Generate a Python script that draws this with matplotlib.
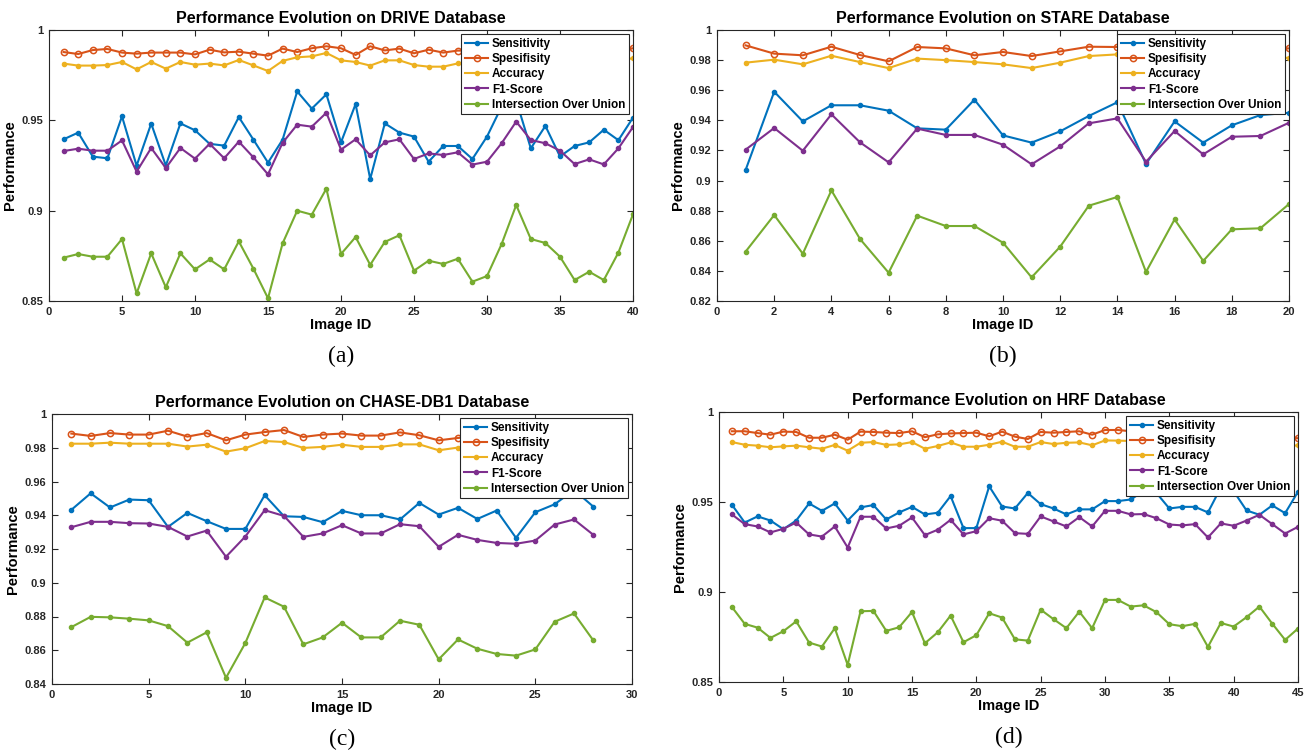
import matplotlib
matplotlib.use("Agg")
import matplotlib.pyplot as plt

plt.rcParams['font.family'] = ['Liberation Sans', 'DejaVu Sans']

# ---- data ----
drive_sens = [0.9395, 0.9432, 0.9299, 0.9290, 0.9522, 0.9249, 0.9482, 0.9250, 0.9483, 0.9445,
              0.9370, 0.9360, 0.9518, 0.9393, 0.9266, 0.9393, 0.9660, 0.9565, 0.9644, 0.9378,
              0.9590, 0.9175, 0.9483, 0.9432, 0.9410, 0.9271, 0.9358, 0.9358, 0.9286, 0.9410,
              0.9576, 0.9610, 0.9345, 0.9469, 0.9300, 0.9358, 0.9378, 0.9448, 0.9390, 0.9515]
drive_spec = [0.9878, 0.9867, 0.9889, 0.9895, 0.9875, 0.9869, 0.9875, 0.9875, 0.9875, 0.9865,
              0.9891, 0.9876, 0.9880, 0.9869, 0.9858, 0.9897, 0.9878, 0.9899, 0.9910, 0.9899,
              0.9862, 0.9910, 0.9887, 0.9897, 0.9871, 0.9891, 0.9875, 0.9886, 0.9885, 0.9890,
              0.9880, 0.9892, 0.9878, 0.9886, 0.9880, 0.9890, 0.9884, 0.9887, 0.9882, 0.9899]
drive_acc = [0.9814, 0.9803, 0.9803, 0.9806, 0.9823, 0.9782, 0.9823, 0.9786, 0.9823, 0.9808,
             0.9814, 0.9804, 0.9834, 0.9804, 0.9773, 0.9829, 0.9849, 0.9854, 0.9873, 0.9832,
             0.9823, 0.9803, 0.9832, 0.9832, 0.9806, 0.9797, 0.9797, 0.9815, 0.9812, 0.9818,
             0.9808, 0.9823, 0.9805, 0.9815, 0.9810, 0.9820, 0.9813, 0.9818, 0.9826, 0.9845]
drive_f1 = [0.9330, 0.9343, 0.9332, 0.9332, 0.9389, 0.9216, 0.9347, 0.9236, 0.9347, 0.9288,
            0.9370, 0.9290, 0.9382, 0.9295, 0.9201, 0.9376, 0.9476, 0.9465, 0.9542, 0.9338,
            0.9395, 0.9306, 0.9378, 0.9395, 0.9286, 0.9317, 0.9308, 0.9323, 0.9255, 0.9271,
            0.9373, 0.9493, 0.9391, 0.9373, 0.9332, 0.9258, 0.9284, 0.9256, 0.9345, 0.9463]
drive_iou = [0.8740, 0.8760, 0.8745, 0.8745, 0.8843, 0.8542, 0.8764, 0.8576, 0.8764, 0.8675,
             0.8730, 0.8675, 0.8830, 0.8679, 0.8515, 0.8819, 0.9000, 0.8978, 0.9122, 0.8760,
             0.8854, 0.8700, 0.8827, 0.8864, 0.8668, 0.8723, 0.8705, 0.8734, 0.8607, 0.8638,
             0.8815, 0.9031, 0.8843, 0.8821, 0.8745, 0.8616, 0.8662, 0.8616, 0.8768, 0.8980]

stare_sens = [0.9070, 0.9590, 0.9393, 0.9500, 0.9500, 0.9464, 0.9347, 0.9338, 0.9537, 0.9300,
              0.9252, 0.9327, 0.9429, 0.9520, 0.9110, 0.9393, 0.9252, 0.9367, 0.9435, 0.9450]
stare_spec = [0.9898, 0.9843, 0.9832, 0.9889, 0.9834, 0.9792, 0.9887, 0.9878, 0.9832, 0.9854,
              0.9827, 0.9858, 0.9889, 0.9887, 0.9860, 0.9875, 0.9855, 0.9868, 0.9872, 0.9878]
stare_acc = [0.9783, 0.9803, 0.9772, 0.9829, 0.9787, 0.9747, 0.9810, 0.9800, 0.9787, 0.9772,
             0.9747, 0.9783, 0.9827, 0.9838, 0.9790, 0.9805, 0.9785, 0.9800, 0.9806, 0.9816]
stare_f1 = [0.9205, 0.9349, 0.9198, 0.9440, 0.9254, 0.9121, 0.9345, 0.9303, 0.9303, 0.9238,
            0.9108, 0.9227, 0.9380, 0.9413, 0.9125, 0.9329, 0.9174, 0.9291, 0.9296, 0.9384]
stare_iou = [0.8528, 0.8771, 0.8514, 0.8935, 0.8612, 0.8388, 0.8767, 0.8698, 0.8698, 0.8587,
             0.8357, 0.8561, 0.8833, 0.8891, 0.8393, 0.8742, 0.8466, 0.8676, 0.8683, 0.8844]

chase_sens = [0.9432, 0.9530, 0.9446, 0.9493, 0.9489, 0.9331, 0.9414, 0.9365, 0.9319, 0.9319,
              0.9519, 0.9394, 0.9390, 0.9359, 0.9426, 0.9400, 0.9400, 0.9375, 0.9473, 0.9404,
              0.9444, 0.9378, 0.9428, 0.9266, 0.9418, 0.9465, 0.9550, 0.9451]
chase_spec = [0.9884, 0.9870, 0.9887, 0.9878, 0.9878, 0.9901, 0.9866, 0.9887, 0.9844, 0.9878,
              0.9893, 0.9905, 0.9864, 0.9878, 0.9884, 0.9872, 0.9872, 0.9891, 0.9874, 0.9844,
              0.9858, 0.9870, 0.9862, 0.9875, 0.9855, 0.9868, 0.9880, 0.9872]
chase_acc = [0.9824, 0.9824, 0.9830, 0.9824, 0.9824, 0.9824, 0.9807, 0.9818, 0.9777, 0.9797,
             0.9840, 0.9834, 0.9799, 0.9805, 0.9818, 0.9805, 0.9805, 0.9820, 0.9820, 0.9785,
             0.9801, 0.9805, 0.9800, 0.9810, 0.9790, 0.9806, 0.9815, 0.9808]
chase_f1 = [0.9329, 0.9361, 0.9361, 0.9353, 0.9351, 0.9331, 0.9274, 0.9309, 0.9154, 0.9274,
            0.9430, 0.9396, 0.9272, 0.9292, 0.9341, 0.9292, 0.9292, 0.9347, 0.9335, 0.9213,
            0.9284, 0.9254, 0.9236, 0.9231, 0.9250, 0.9345, 0.9375, 0.9284]
chase_iou = [0.8737, 0.8798, 0.8795, 0.8787, 0.8777, 0.8743, 0.8645, 0.8706, 0.8437, 0.8643,
             0.8913, 0.8858, 0.8635, 0.8676, 0.8763, 0.8676, 0.8676, 0.8775, 0.8751, 0.8546,
             0.8664, 0.8609, 0.8578, 0.8568, 0.8605, 0.8769, 0.8818, 0.8658]

hrf_sens = [0.9485, 0.9386, 0.9420, 0.9397, 0.9349, 0.9397, 0.9492, 0.9451, 0.9492, 0.9397,
            0.9470, 0.9483, 0.9403, 0.9442, 0.9473, 0.9431, 0.9440, 0.9533, 0.9355, 0.9355,
            0.9587, 0.9475, 0.9464, 0.9550, 0.9488, 0.9464, 0.9431, 0.9459, 0.9459, 0.9505,
            0.9505, 0.9514, 0.9560, 0.9550, 0.9464, 0.9473, 0.9473, 0.9442, 0.9580, 0.9560,
            0.9453, 0.9429, 0.9481, 0.9438, 0.9557]
hrf_spec = [0.9893, 0.9893, 0.9883, 0.9874, 0.9891, 0.9889, 0.9857, 0.9857, 0.9874, 0.9846,
            0.9891, 0.9889, 0.9885, 0.9883, 0.9893, 0.9860, 0.9876, 0.9881, 0.9883, 0.9885,
            0.9865, 0.9891, 0.9863, 0.9850, 0.9889, 0.9885, 0.9889, 0.9893, 0.9874, 0.9900,
            0.9900, 0.9893, 0.9885, 0.9878, 0.9890, 0.9872, 0.9884, 0.9866, 0.9888, 0.9880,
            0.9874, 0.9886, 0.9870, 0.9862, 0.9854]
hrf_acc = [0.9833, 0.9818, 0.9813, 0.9804, 0.9809, 0.9813, 0.9804, 0.9796, 0.9817, 0.9785,
           0.9829, 0.9833, 0.9817, 0.9820, 0.9833, 0.9796, 0.9811, 0.9831, 0.9807, 0.9807,
           0.9818, 0.9835, 0.9807, 0.9807, 0.9833, 0.9822, 0.9829, 0.9831, 0.9815, 0.9842,
           0.9841, 0.9839, 0.9830, 0.9820, 0.9834, 0.9815, 0.9826, 0.9806, 0.9828, 0.9820,
           0.9812, 0.9830, 0.9816, 0.9808, 0.9815]
hrf_f1 = [0.9431, 0.9377, 0.9364, 0.9331, 0.9351, 0.9386, 0.9320, 0.9308, 0.9364, 0.9247,
          0.9418, 0.9418, 0.9353, 0.9368, 0.9414, 0.9316, 0.9346, 0.9401, 0.9320, 0.9338,
          0.9410, 0.9396, 0.9327, 0.9323, 0.9420, 0.9392, 0.9364, 0.9416, 0.9364, 0.9451,
          0.9451, 0.9431, 0.9433, 0.9410, 0.9375, 0.9370, 0.9377, 0.9303, 0.9381, 0.9368,
          0.9397, 0.9429, 0.9377, 0.9325, 0.9362]
hrf_iou = [0.8917, 0.8823, 0.8802, 0.8745, 0.8782, 0.8837, 0.8719, 0.8697, 0.8799, 0.8595,
           0.8893, 0.8895, 0.8784, 0.8804, 0.8889, 0.8715, 0.8776, 0.8869, 0.8721, 0.8760,
           0.8882, 0.8858, 0.8737, 0.8730, 0.8902, 0.8849, 0.8799, 0.8891, 0.8799, 0.8956,
           0.8956, 0.8919, 0.8926, 0.8888, 0.8821, 0.8810, 0.8823, 0.8695, 0.8828, 0.8808,
           0.8860, 0.8919, 0.8824, 0.8734, 0.8797]

series_names = ["Sensitivity", "Spesifisity", "Accuracy", "F1-Score", "Intersection Over Union"]
colors = ["#0072BD", "#D95319", "#EDB120", "#7E2F8E", "#77AC30"]

panels = [
    # name, data, xmax, xticks, ylim, yticks, ylabels, axes box in px, tag
    ("DRIVE", [drive_sens, drive_spec, drive_acc, drive_f1, drive_iou],
     40, list(range(0, 41, 5)), (0.85, 1.0), [0.85, 0.9, 0.95, 1.0], ["0.85", "0.9", "0.95", "1"],
     [49, 30, 633, 301], "(a)"),
    ("STARE", [stare_sens, stare_spec, stare_acc, stare_f1, stare_iou],
     20, list(range(0, 21, 2)), (0.82, 1.0),
     [0.82, 0.84, 0.86, 0.88, 0.9, 0.92, 0.94, 0.96, 0.98, 1.0],
     ["0.82", "0.84", "0.86", "0.88", "0.9", "0.92", "0.94", "0.96", "0.98", "1"],
     [717, 30, 1289, 301], "(b)"),
    ("CHASE-DB1", [chase_sens, chase_spec, chase_acc, chase_f1, chase_iou],
     30, list(range(0, 31, 5)), (0.84, 1.0),
     [0.84, 0.86, 0.88, 0.9, 0.92, 0.94, 0.96, 0.98, 1.0],
     ["0.84", "0.86", "0.88", "0.9", "0.92", "0.94", "0.96", "0.98", "1"],
     [52, 414, 632, 684], "(c)"),
    ("HRF", [hrf_sens, hrf_spec, hrf_acc, hrf_f1, hrf_iou],
     45, list(range(0, 46, 5)), (0.85, 1.0), [0.85, 0.9, 0.95, 1.0], ["0.85", "0.9", "0.95", "1"],
     [719, 412, 1298, 682], "(d)"),
]

W, H = 1310, 756
fig = plt.figure(figsize=(W / 100, H / 100), dpi=100)

for name, data, xmax, xt, ylim, yt, ylab, (x0, y0, x1, y1), tag in panels:
    ax = fig.add_axes([x0 / W, 1 - y1 / H, (x1 - x0) / W, (y1 - y0) / H])
    for vals, lab, c in zip(data, series_names, colors):
        ids = list(range(1, len(vals) + 1))
        if lab == "Spesifisity":
            ax.plot(ids, vals, color=c, lw=1.5, marker="o", ms=4.5, mfc="none", mew=1.1, label=lab)
        else:
            ax.plot(ids, vals, color=c, lw=1.5, marker=".", ms=6, label=lab)
    ax.set_xlim(0, xmax)
    ax.set_ylim(*ylim)
    ax.set_xticks(xt)
    ax.set_yticks(yt)
    ax.set_yticklabels(ylab)
    ax.tick_params(direction="in", top=True, right=True, length=4, width=0.8,
                   labelsize=8, colors="#262626", pad=4)
    for lbl in ax.get_xticklabels() + ax.get_yticklabels():
        lbl.set_fontweight("bold")
    for s in ax.spines.values():
        s.set_color("#262626")
        s.set_linewidth(0.8)
    ax.set_title("Performance Evolution on %s Database" % name, fontsize=11.5,
                 fontweight="bold", pad=5)
    ax.set_xlabel("Image ID", fontsize=10.5, fontweight="bold", labelpad=1)
    ax.set_ylabel("Performance", fontsize=10.5, fontweight="bold", labelpad=3)
    leg = ax.legend(loc="upper right", prop={"weight": "bold", "size": 8.5},
                    handlelength=2.0, labelspacing=0.28, borderpad=0.3, borderaxespad=0.35,
                    handletextpad=0.3, fancybox=False, framealpha=1)
    leg.get_frame().set_edgecolor("#262626")
    leg.get_frame().set_linewidth(0.8)
    cx = (x0 + x1) / 2
    fig.text(cx / W, 1 - (y1 + 55) / H, tag, ha="center", va="center",
             fontsize=17, family=["Liberation Serif", "DejaVu Serif"])

fig.savefig("out.png", dpi=100)
